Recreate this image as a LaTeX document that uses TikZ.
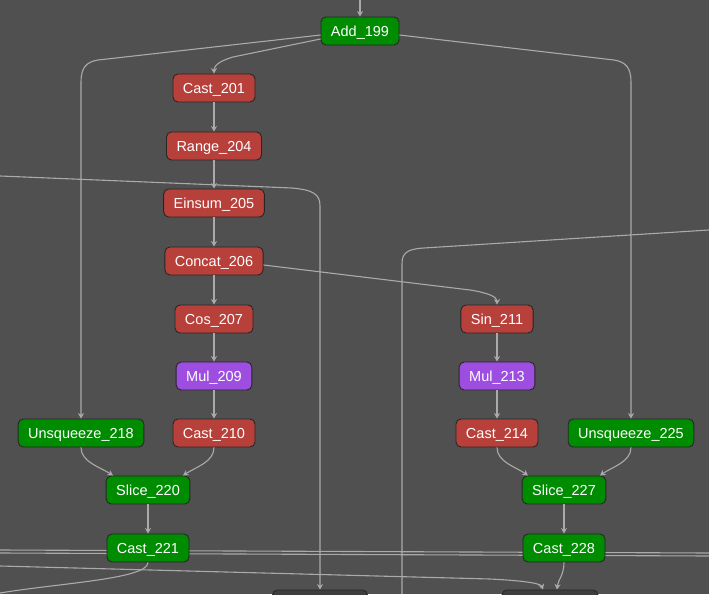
\documentclass[tikz,border=0pt]{standalone}
\usepackage{fontspec}
\setmainfont{Liberation Sans}
\usepackage{xcolor}
\usetikzlibrary{arrows.meta}
\definecolor{bggray}{RGB}{80,80,80}
\definecolor{edgegray}{RGB}{170,170,170}
\definecolor{opgreenfill}{RGB}{0,140,0}
\definecolor{opredfill}{RGB}{183,64,58}
\definecolor{oppurplefill}{RGB}{157,78,224}
\definecolor{opdarkfill}{RGB}{62,62,62}
\definecolor{opborder}{RGB}{38,38,38}

\begin{document}
\begin{tikzpicture}[x=1pt, y=-1pt, >={Stealth[length=5.5pt,width=6pt]},
    op/.style={draw=opborder, line width=0.9pt, rounded corners=5pt,
        text=white, inner xsep=10pt, inner ysep=0pt, minimum height=28pt,
        text height=11pt, text depth=0.6pt,
        font=\fontsize{14.5}{17}\selectfont},
    opgreen/.style={op, fill=opgreenfill},
    opred/.style={op, fill=opredfill},
    opmul/.style={op, fill=oppurplefill},
    opdark/.style={op, fill=opdarkfill, minimum height=30pt},
    edge/.style={draw=edgegray, line width=1.1pt}]

    % Canvas
    \useasboundingbox (0,0) rectangle (709,594);
    \clip (0,0) rectangle (709,594);
    \fill[bggray] (0,0) rectangle (709,594);

    % Loose ends of edges leaving the view
    \coordinate (in199) at (360,0);
    \coordinate (inleft) at (0,176);
    \coordinate (inright) at (709,230);
    \coordinate (outright) at (402,594);
    \coordinate (busaw) at (0,550);
    \coordinate (busae) at (709,553);
    \coordinate (busbw) at (0,553);
    \coordinate (busbe) at (709,556);
    \coordinate (inlow) at (0,566);
    \coordinate (out221) at (0,593);

    % Edges that run behind the nodes
    \draw[edge] (busaw) -- (busae);
    \draw[edge] (busbw) -- (busbe);

    % Nodes
    \node[opgreen] (add199) at (360,31) {Add\_199};
    \node[opred] (cast201) at (214,88) {Cast\_201};
    \node[opred] (range204) at (214,146) {Range\_204};
    \node[opred] (einsum205) at (214,203) {Einsum\_205};
    \node[opred] (concat206) at (214,261) {Concat\_206};
    \node[opred] (cos207) at (214,319) {Cos\_207};
    \node[opmul] (mul209) at (214,376) {Mul\_209};
    \node[opred] (cast210) at (214,433) {Cast\_210};
    \node[opgreen] (unsq218) at (81,433) {Unsqueeze\_218};
    \node[opgreen] (slice220) at (148,490) {Slice\_220};
    \node[opgreen] (cast221) at (148,548) {Cast\_221};

    \node[opred] (sin211) at (497,319) {Sin\_211};
    \node[opmul] (mul213) at (497,376) {Mul\_213};
    \node[opred] (cast214) at (497,433) {Cast\_214};
    \node[opgreen] (unsq225) at (631,433) {Unsqueeze\_225};
    \node[opgreen] (slice227) at (564,490) {Slice\_227};
    \node[opgreen] (cast228) at (564,548) {Cast\_228};

    \node[opdark, minimum width=95pt] (dark1) at (320,605) {};
    \node[opdark, minimum width=96pt] (dark2) at (550,605) {};

    % Edges from Add_199
    \draw[edge, ->] (in199) -- (add199.north);
    \draw[edge, ->] ([yshift=-8pt]add199.west) -- (233,57)
        .. controls (219,61) and (214,66) .. (cast201.north);
    \draw[edge, ->] ([yshift=-4pt]add199.west) -- (98,60)
        .. controls (86,62) and (81,68) .. (81,82) -- (unsq218.north);
    \draw[edge, ->] ([yshift=-4pt]add199.east) -- (614,60)
        .. controls (626,62) and (631,68) .. (631,82) -- (unsq225.north);

    % Left column
    \draw[edge, ->] (cast201) -- (range204);
    \draw[edge, ->] (range204) -- (einsum205);
    \draw[edge, ->] (einsum205) -- (concat206);
    \draw[edge, ->] (concat206) -- (cos207);
    \draw[edge, ->] (cos207) -- (mul209);
    \draw[edge, ->] (mul209) -- (cast210);
    \draw[edge, ->] (unsq218.south) .. controls (81,462) and (100,467) .. ([xshift=-35pt]slice220.north);
    \draw[edge, ->] (cast210.south) .. controls (214,462) and (196,467) .. ([xshift=35pt]slice220.north);
    \draw[edge, ->] (slice220) -- (cast221);

    % Right column
    \draw[edge, ->] ([yshift=-4pt]concat206.east) -- (470,290)
        .. controls (489,293) and (497,297) .. (sin211.north);
    \draw[edge, ->] (sin211) -- (mul213);
    \draw[edge, ->] (mul213) -- (cast214);
    \draw[edge, ->] (cast214.south) .. controls (497,462) and (516,467) .. ([xshift=-36pt]slice227.north);
    \draw[edge, ->] (unsq225.south) .. controls (631,462) and (612,467) .. ([xshift=36pt]slice227.north);
    \draw[edge, ->] (slice227) -- (cast228);

    % Long edges crossing the view
    \draw[edge, ->] (inleft) -- (292,188)
        .. controls (313,190) and (320,194) .. (320,206) -- (dark1.north);
    \draw[edge] (inright) -- (424,248)
        .. controls (407,249) and (402,253) .. (402,264) -- (outright);
    \draw[edge, ->] (inlow) -- (490,579)
        .. controls (530,581) and (541,584) .. ([xshift=-7pt]dark2.north);
    \draw[edge] (cast221.south) .. controls (148,579) and (60,583) .. (out221);
    \draw[edge, ->] (cast228.south) .. controls (564,575) and (558,580) .. ([xshift=7pt]dark2.north);

\end{tikzpicture}
\end{document}
